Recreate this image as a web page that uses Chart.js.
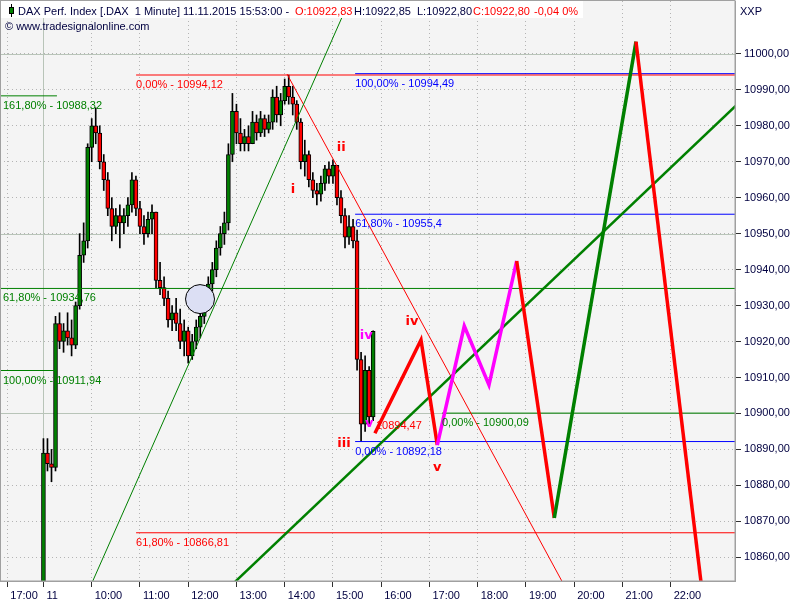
<!DOCTYPE html>
<html>
<head>
<meta charset="utf-8">
<script src="https://cdn.jsdelivr.net/npm/chart.js@4.4.1/dist/chart.umd.min.js"></script>
<style>
  html, body { margin: 0; padding: 0; background: #fff; }
  canvas { display: block; }
</style>
</head>
<body>
<canvas id="myChart" width="800" height="600"></canvas>
<script>
// DAX 11.11.2015, candles in 5 minute steps from 09:00
const barStartHour = 9;
const barMinutes = 5;
const opens  = [10848,10889,10886,10885,10925,10920,10923,10921,10919,10930,10944,10948,10974,10980,10978,10970,10965,10957,10952,10955,10953,10955,10958,10965,10957,10952,10950,10954,10956,10937,10935,10932,10926,10928,10925,10920,10923,10916,10920,10924,10927,10932,10936,10940,10946,10950,10953,10972,10984,10978,10975,10977,10975,10981,10978,10982,10979,10981,10988,10983,10987,10991,10988,10986,10981,10970,10972,10965,10962,10961,10964,10968,10966,10969,10960,10955,10949,10952,10948,10915,10897,10912,10899];
const highs  = [10893,10893,10890,10927,10928,10925,10928,10926,10931,10950,10953,10975,10982,10985,10980,10972,10967,10960,10957,10958,10957,10960,10967,10966,10959,10955,10956,10958,10956,10942,10938,10934,10930,10932,10929,10926,10924,10922,10926,10929,10934,10938,10942,10948,10952,10956,10975,10989,10986,10982,10979,10980,10984,10983,10984,10983,10983,10990,10991,10989,10993,10994.1,10991,10987,10982,10976,10973,10967,10964,10966,10969,10970,10970.5,10969,10962,10957,10955,10954,10951,10917,10916,10913,10923];
const lows   = [10846,10884,10881,10884,10918,10917,10919,10916,10918,10929,10942,10946,10970,10975,10968,10962,10955,10948,10950,10946,10950,10952,10956,10955,10950,10947,10949,10950,10935,10933,10930,10924,10923,10923,10918,10916,10914,10915,10918,10921,10925,10930,10934,10938,10944,10947,10951,10970,10975,10973,10973,10973,10975,10976,10977,10977,10978,10979,10981,10980,10986,10986,10983,10979,10968,10966,10963,10960,10958,10959,10962,10964,10964,10958,10953,10946,10947,10946,10912,10892.2,10895,10897,10898];
const closes = [10889,10886,10885,10925,10920,10923,10921,10919,10930,10944,10948,10974,10980,10978,10970,10965,10957,10952,10955,10953,10955,10958,10965,10957,10952,10950,10954,10956,10937,10935,10932,10926,10928,10925,10920,10923,10916,10920,10924,10927,10932,10936,10940,10946,10950,10953,10972,10984,10978,10975,10977,10975,10981,10978,10982,10979,10981,10988,10983,10987,10991,10988,10986,10981,10970,10972,10965,10962,10961,10964,10968,10966,10969,10960,10955,10949,10952,10948,10915,10897,10912,10899,10922.8];

// axis ticks (time axis in session hours, 17:00 = previous day)
const timeTicks  = [8.25, 9, 10, 11, 12, 13, 14, 15, 16, 17, 18, 19, 20, 21, 22];
const timeLabels = ['17:00', '11', '10:00', '11:00', '12:00', '13:00', '14:00', '15:00', '16:00', '17:00', '18:00', '19:00', '20:00', '21:00', '22:00'];
const priceTicks = [10860, 10870, 10880, 10890, 10900, 10910, 10920, 10930, 10940, 10950, 10960, 10970, 10980, 10990, 11000];
const majorPrices = [10900, 10950, 11000];
const sessionOpen = 9;

// fibonacci levels
const fibLabels = ['161,80% - 10988,32', '100,00% - 10911,94', '61,80% - 10934,76', '0,00% - 10994,12', '61,80% - 10866,81', '100,00% - 10994,49', '61,80% - 10955,4', '0,00% - 10892,18', '0,00% - 10900,09'];
const fibPrices = [10988.32, 10911.94, 10934.76, 10994.12, 10866.81, 10994.49, 10955.4, 10892.18, 10900.09];
const fibStart  = [8.09, 8.09, 8.09, 10.92, 10.92, 15.46, 15.46, 15.46, 17.26];
const fibEnd    = [9.28, 9.28, 23.4, 23.4, 23.4, 23.4, 23.4, 23.4, 23.4];

// trend lines
const thinGreenHours = [9.95, 15.35];
const thinGreenPrices = [10851.2, 11015.1];
const thinRedHours = [14.048, 19.76];
const thinRedPrices = [10994.4, 10853.0];
const thickGreenHours = [12.95, 23.4];
const thickGreenPrices = [10852.9, 10986.2];

// projected wave path
const waveHours  = [15.87, 16.825, 17.163, 17.722, 18.234, 18.808, 19.588, 21.281, 22.648];
const wavePrices = [10894.47, 10920.4, 10891.2, 10924.3, 10907.9, 10942.4, 10870.9, 11003.4, 10850.9];

// wave counts
const countText   = ['i', 'ii', 'iii', 'iv', 'v', 'iv', 'v'];
const countHours  = [14.17, 15.17, 15.23, 15.69, 15.75, 16.64, 17.16];
const countPrices = [10962.2, 10973.9, 10891.5, 10921.6, 10897.1, 10925.5, 10884.8];

const circleHour = 12.245;
const circlePrice = 10931.8;

const GREEN = '#008000', RED = '#ff0000', BLUE = '#0000ff', MAGENTA = '#ff00ff', NAVY = '#000040';
const fibColors = [GREEN, GREEN, GREEN, RED, RED, BLUE, BLUE, BLUE, GREEN];
const waveSegColors = [RED, RED, MAGENTA, MAGENTA, MAGENTA, RED, GREEN, RED];
const countColors = [RED, RED, RED, MAGENTA, MAGENTA, RED, RED];
const FONT = '"Liberation Sans", Arial, sans-serif';

const hourOf = i => barStartHour + i * barMinutes / 60;
const pts = (xs, ys) => xs.map((x, i) => ({ x: x, y: ys[i] }));

const datasets = [];
datasets.push({
  type: 'bar', order: 9, grouped: false,
  data: highs.map((h, i) => ({ x: hourOf(i), y: [lows[i], h] })),
  backgroundColor: '#000', borderWidth: 0, barThickness: 1
});
datasets.push({
  type: 'bar', order: 8, grouped: false,
  data: opens.map((o, i) => ({ x: hourOf(i), y: [o, closes[i]] })),
  backgroundColor: opens.map((o, i) => closes[i] >= o ? GREEN : RED),
  borderColor: '#000', borderWidth: 1, borderSkipped: false, barThickness: 4
});
fibPrices.forEach((p, i) => {
  datasets.push({
    type: 'line', order: 6,
    data: [{ x: fibStart[i], y: p }, { x: fibEnd[i], y: p }],
    borderColor: fibColors[i], borderWidth: 1, pointRadius: 0
  });
});
datasets.push({ type: 'line', order: 5, data: pts(thinGreenHours, thinGreenPrices), borderColor: GREEN, borderWidth: 1, pointRadius: 0 });
datasets.push({ type: 'line', order: 5, data: pts(thinRedHours, thinRedPrices), borderColor: RED, borderWidth: 1, pointRadius: 0 });
datasets.push({ type: 'line', order: 4, data: pts(thickGreenHours, thickGreenPrices), borderColor: GREEN, borderWidth: 2.5, pointRadius: 0 });
datasets.push({
  type: 'line', order: 3, data: [{ x: circleHour, y: circlePrice }], showLine: false,
  pointRadius: 14.5, pointBackgroundColor: '#dcdff4', pointBorderColor: '#000', pointBorderWidth: 1
});
datasets.push({
  type: 'line', order: 1, data: pts(waveHours, wavePrices),
  borderColor: RED, borderWidth: 3.5, pointRadius: 0,
  segment: { borderColor: c => waveSegColors[c.p0DataIndex] }
});

const noPadding = s => { s.paddingLeft = 0; s.paddingRight = 0; s.paddingTop = 0; s.paddingBottom = 0; };

const chartDecor = {
  id: 'chartDecor',
  beforeDraw(chart) {
    const { ctx, chartArea: a } = chart;
    ctx.save();
    ctx.fillStyle = '#ffffff';
    ctx.fillRect(0, 0, chart.width, chart.height);
    ctx.fillStyle = '#f4f4f4';
    ctx.fillRect(a.left, a.top, a.right - a.left, a.bottom - a.top);
    ctx.restore();
  },
  beforeDatasetsDraw(chart) {
    const { ctx, chartArea: a, scales: { x, y } } = chart;
    ctx.save();
    ctx.strokeStyle = '#b8c4b8';
    ctx.lineWidth = 1;
    ctx.beginPath();
    majorPrices.forEach(p => {
      const py = Math.round(y.getPixelForValue(p)) + 0.5;
      ctx.moveTo(a.left, py); ctx.lineTo(a.right, py);
    });
    const sx = Math.round(x.getPixelForValue(sessionOpen)) + 0.5;
    ctx.moveTo(sx, a.top); ctx.lineTo(sx, a.bottom);
    ctx.stroke();
    ctx.restore();
  },
  afterDatasetsDraw(chart) {
    const { ctx, chartArea: a, scales: { x, y } } = chart;
    ctx.save();
    ctx.font = '11px ' + FONT;
    ctx.textBaseline = 'alphabetic';
    fibLabels.forEach((t, i) => {
      ctx.fillStyle = fibColors[i];
      const lx = Math.max(x.getPixelForValue(fibStart[i]), a.left + 3);
      ctx.fillText(t, lx, Math.round(y.getPixelForValue(fibPrices[i])) + 13);
    });
    ctx.fillStyle = RED;
    ctx.fillText('10894,47', x.getPixelForValue(waveHours[0]) + 1, y.getPixelForValue(wavePrices[0]) - 4);

    ctx.font = 'bold 13px "DejaVu Sans", sans-serif';
    ctx.textAlign = 'center';
    ctx.textBaseline = 'middle';
    countText.forEach((t, i) => {
      ctx.fillStyle = countColors[i];
      ctx.fillText(t, x.getPixelForValue(countHours[i]), y.getPixelForValue(countPrices[i]));
    });
    ctx.restore();
  },
  afterDraw(chart) {
    const { ctx, chartArea: a } = chart;
    ctx.save();
    // frame
    ctx.strokeStyle = '#a0a0a0';
    ctx.lineWidth = 1;
    ctx.strokeRect(a.left + 0.5, a.top - 0.5, a.right - a.left - 0.5, a.bottom - a.top + 0.5);
    // header box
    ctx.fillStyle = '#ffffff';
    ctx.fillRect(1, 1, 582, 17);
    // candle icon
    ctx.fillStyle = '#000';
    ctx.fillRect(11, 4, 1, 13);
    ctx.fillRect(9, 7, 5, 7);
    ctx.fillStyle = GREEN;
    ctx.fillRect(10, 8, 3, 5);

    ctx.font = '11px ' + FONT;
    ctx.textBaseline = 'alphabetic';
    const seg = (t, px, c) => { ctx.fillStyle = c; ctx.fillText(t, px, 15); };
    seg('DAX Perf. Index [.DAX  1 Minute] 11.11.2015 15:53:00 -', 18, NAVY);
    seg('O:10922,83', 295, RED);
    seg('H:10922,85', 354, NAVY);
    seg('L:10922,80', 417, NAVY);
    seg('C:10922,80', 473, RED);
    seg('-0,04 0%', 534, RED);
    ctx.fillStyle = NAVY;
    ctx.fillText('\u00a9 www.tradesignalonline.com', 5, 30);
    ctx.fillText('XXP', 740, 15);
    ctx.restore();
  }
};

const ctx = document.getElementById('myChart');

new Chart(ctx, {
  type: 'bar',
  data: { datasets: datasets },
  options: {
    responsive: false,
    animation: false,
    devicePixelRatio: 1,
    layout: { autoPadding: false, padding: { top: 1, left: 0, right: 0, bottom: 0 } },
    plugins: {
      legend: { display: false },
      tooltip: { enabled: false }
    },
    scales: {
      x: {
        type: 'linear',
        min: 8.0995,
        max: 23.333,
        offset: false,
        afterBuildTicks: s => { s.ticks = timeTicks.map(v => ({ value: v })); },
        afterFit: s => { s.height = 19; noPadding(s); },
        ticks: {
          autoSkip: false, maxRotation: 0, minRotation: 0,
          align: 'start', labelOffset: 3, padding: 2,
          color: NAVY, font: { family: FONT, size: 11 },
          callback: (v, i) => timeLabels[i]
        },
        grid: { offset: false, color: '#b4b4b4', tickColor: '#303030', tickLength: 6 },
        border: { color: '#a0a0a0', width: 1, dash: [1, 3] }
      },
      y: {
        type: 'linear',
        position: 'right',
        min: 10853.4,
        max: 11014.7,
        afterBuildTicks: s => { s.ticks = priceTicks.map(v => ({ value: v })); },
        afterFit: s => { s.width = 65; noPadding(s); },
        ticks: {
          padding: 3,
          color: NAVY, font: { family: FONT, size: 11 },
          callback: v => v.toFixed(2).replace('.', ',')
        },
        grid: { color: '#b4b4b4', tickColor: '#303030', tickLength: 6 },
        border: { color: '#a0a0a0', width: 1, dash: [1, 3] }
      }
    }
  },
  plugins: [chartDecor]
});
</script>
</body>
</html>
